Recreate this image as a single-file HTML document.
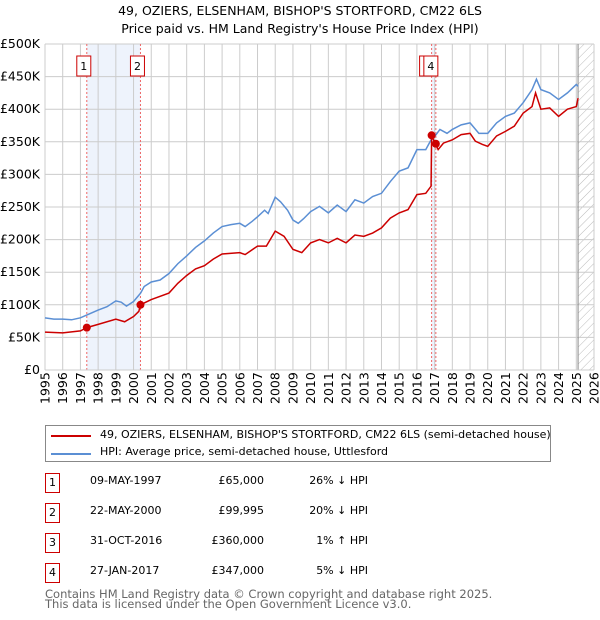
<!DOCTYPE html>
<html><head><meta charset="utf-8"><style>
body{margin:0;background:#fff;font-family:"DejaVu Sans","Liberation Sans",sans-serif;}
#wrap{position:relative;width:600px;height:620px;overflow:hidden}
.t{position:absolute;font-size:12px;color:#000;white-space:nowrap}
.box{position:absolute;width:13px;height:18px;border:1px solid #c00;font-size:11px;text-align:center;line-height:18px;background:#fff}
</style></head><body><div id="wrap">
<svg id="chart" width="600" height="420" style="position:absolute;left:0;top:0">
<defs><pattern id="hatch" width="6" height="6" patternUnits="userSpaceOnUse" patternTransform="rotate(45)"><line x1="0" y1="0" x2="0" y2="6" stroke="#bbb" stroke-width="1"/></pattern></defs>
<text x="300" y="15" text-anchor="middle" font-size="12.5">49, OZIERS, ELSENHAM, BISHOP'S STORTFORD, CM22 6LS</text>
<text x="300" y="33" text-anchor="middle" font-size="12.5">Price paid vs. HM Land Registry's House Price Index (HPI)</text>
<g id="g"></g>
</svg>
<div style="position:absolute;left:45px;top:425px;width:504px;height:35px;border:1px solid #888">
<div style="position:absolute;left:5px;top:9px;width:40px;height:2px;background:#c00"></div>
<div class="t" style="left:54px;top:2px;font-size:11px">49, OZIERS, ELSENHAM, BISHOP'S STORTFORD, CM22 6LS (semi-detached house)</div>
<div style="position:absolute;left:5px;top:27px;width:40px;height:2px;background:#5b8fd4"></div>
<div class="t" style="left:54px;top:19px;font-size:11px">HPI: Average price, semi-detached house, Uttlesford</div>
</div>
<div id="tbl"></div>
<div class="t" style="left:45px;top:589px;color:#666;font-size:11.5px;line-height:10px">Contains HM Land Registry data © Crown copyright and database right 2025.<br>This data is licensed under the Open Government Licence v3.0.</div>
</div>
<script>
const hpiYears=[1995,1995.5,1996,1996.5,1997,1997.5,1998,1998.5,1999,1999.3,1999.6,2000,2000.4,2000.6,2001,2001.5,2002,2002.5,2003,2003.5,2004,2004.5,2005,2005.5,2006,2006.3,2006.7,2007,2007.4,2007.6,2008,2008.3,2008.7,2009,2009.3,2009.6,2010,2010.5,2011,2011.5,2012,2012.5,2013,2013.5,2014,2014.5,2015,2015.5,2016,2016.5,2016.8,2017,2017.3,2017.7,2018,2018.5,2019,2019.5,2020,2020.5,2021,2021.5,2022,2022.5,2022.75,2023,2023.5,2024,2024.5,2025,2025.1];
const hpiValues=[80,78,78,77,80,86,92,97,106,104,98,105,118,128,135,138,148,163,175,188,198,210,220,223,225,220,228,235,245,240,265,258,245,230,225,232,243,251,241,253,243,261,256,266,271,289,305,310,338,338,353,358,369,363,369,376,379,363,363,379,389,394,410,430,446,430,425,415,425,438,435];
const redYears=[1995,1996,1997,1997.36,1998,1999,1999.5,2000,2000.3,2000.39,2001,2002,2002.5,2003,2003.5,2004,2004.5,2005,2006,2006.3,2007,2007.5,2008,2008.5,2009,2009.5,2010,2010.5,2011,2011.5,2012,2012.5,2013,2013.5,2014,2014.5,2015,2015.5,2016,2016.5,2016.8,2016.83,2017.07,2017.2,2017.5,2018,2018.5,2019,2019.3,2019.7,2020,2020.5,2021,2021.5,2022,2022.5,2022.7,2023,2023.5,2024,2024.5,2025,2025.1];
const redValues=[58,57,60,65,70,78,74,82,90,100,108,118,133,145,155,160,170,178,180,177,190,190,213,205,185,180,195,200,195,202,195,207,205,210,218,233,241,246,269,271,282,359,346,338,348,353,361,363,351,346,343,359,366,374,394,404,425,400,402,389,400,404,417];
const saleIds=["1","2","3","4"];
const saleYears=[1997.36,2000.39,2016.83,2017.07];
const saleDates=["09-MAY-1997","22-MAY-2000","31-OCT-2016","27-JAN-2017"];
const salePrices=[65,99.995,360,347];
const salePriceLabels=["£65,000","£99,995","£360,000","£347,000"];
const saleHpi=["26% ↓ HPI","20% ↓ HPI","1% ↑ HPI","5% ↓ HPI"];
const yTicks=[0,50,100,150,200,250,300,350,400,450,500];
const yTickLabels=["£0","£50K","£100K","£150K","£200K","£250K","£300K","£350K","£400K","£450K","£500K"];
const xTicks=[1995,1996,1997,1998,1999,2000,2001,2002,2003,2004,2005,2006,2007,2008,2009,2010,2011,2012,2013,2014,2015,2016,2017,2018,2019,2020,2021,2022,2023,2024,2025,2026];
const X0=45,X1=594,Y0=370,Y1=44,yr0=1995,yr1=2026,vmax=500,dataEnd=2025.1;
const xs=y=>X0+(y-yr0)/(yr1-yr0)*(X1-X0);
const ys=v=>Y0-v/vmax*(Y0-Y1);
const NS="http://www.w3.org/2000/svg",g=document.getElementById('g');
function mk(t,a){const e=document.createElementNS(NS,t);for(const k in a)e.setAttribute(k,a[k]);g.appendChild(e);return e;}
let e;
e=mk('rect',{x:xs(saleYears[0]),y:Y1,width:xs(saleYears[1])-xs(saleYears[0]),height:Y0-Y1,fill:'#eef3fc'});

e=mk('rect',{x:xs(saleYears[2]),y:Y1,width:xs(saleYears[3])-xs(saleYears[2]),height:Y0-Y1,fill:'#eef3fc'});

e=mk('rect',{x:xs(dataEnd),y:Y1,width:X1-xs(dataEnd),height:Y0-Y1,fill:'url(#hatch)'});

yTicks.forEach((v,i)=>{e=mk('line',{x1:X0,x2:X1,y1:ys(v),y2:ys(v),stroke:'#ccc'});

e=mk('text',{x:X0-5,y:ys(v)+4,'text-anchor':'end','font-size':'12.5'});e.textContent=yTickLabels[i];
});
xTicks.forEach(y=>{e=mk('line',{x1:xs(y),x2:xs(y),y1:Y1,y2:Y0,stroke:'#ccc'});

e=mk('text',{x:0,y:0,'font-size':'12.5',transform:`translate(${xs(y)+4.5},${Y0+34}) rotate(-90)`});e.textContent=y;
});
e=mk('line',{x1:xs(dataEnd),x2:xs(dataEnd),y1:Y1,y2:Y0,stroke:'#888'});

saleYears.forEach((y,i)=>{e=mk('line',{x1:xs(y),x2:xs(y),y1:Y1,y2:Y0,stroke:'#e66','stroke-dasharray':'2,2'});
});
e=mk('polyline',{points:hpiYears.map((y,i)=>xs(y)+','+ys(hpiValues[i])).join(' '),fill:'none',stroke:'#5b8fd4','stroke-width':1.5});

e=mk('polyline',{points:redYears.map((y,i)=>xs(y)+','+ys(redValues[i])).join(' '),fill:'none',stroke:'#c00','stroke-width':1.5});

saleYears.forEach((y,i)=>{e=mk('circle',{cx:xs(y),cy:ys(salePrices[i]),r:4,fill:'#c00'});
});
const boxOff=[-10,-10,-12,-12];
saleYears.forEach((y,i)=>{const bx=xs(y)+boxOff[i];
e=mk('rect',{x:bx,y:56,width:14,height:20,fill:'#fff',stroke:'#c00'});

e=mk('text',{x:bx+7,y:70,'text-anchor':'middle','font-size':'11'});e.textContent=saleIds[i];
});
e=mk('line',{x1:X0,x2:X1,y1:Y0,y2:Y0,stroke:'#ccc'});
const tbl=document.getElementById('tbl');
saleIds.forEach((id,i)=>{const top=474+i*30;
let d=document.createElement('div');d.className='box';d.style.left='45px';d.style.top=(top-1)+'px';d.textContent=id;
tbl.appendChild(d);
d=document.createElement('div');d.className='t';d.style.left='90px';d.style.width='68px';d.style.textAlign='right';d.style.top=top+'px';d.style.fontSize='11px';d.textContent=saleDates[i];
tbl.appendChild(d);
d=document.createElement('div');d.className='t';d.style.left='184px';d.style.width='80px';d.style.textAlign='right';d.style.top=top+'px';d.style.fontSize='11px';d.textContent=salePriceLabels[i];
tbl.appendChild(d);
d=document.createElement('div');d.className='t';d.style.left='288px';d.style.width='80px';d.style.textAlign='right';d.style.top=top+'px';d.style.fontSize='11px';d.textContent=saleHpi[i];
tbl.appendChild(d);});
</script>
</body></html>
